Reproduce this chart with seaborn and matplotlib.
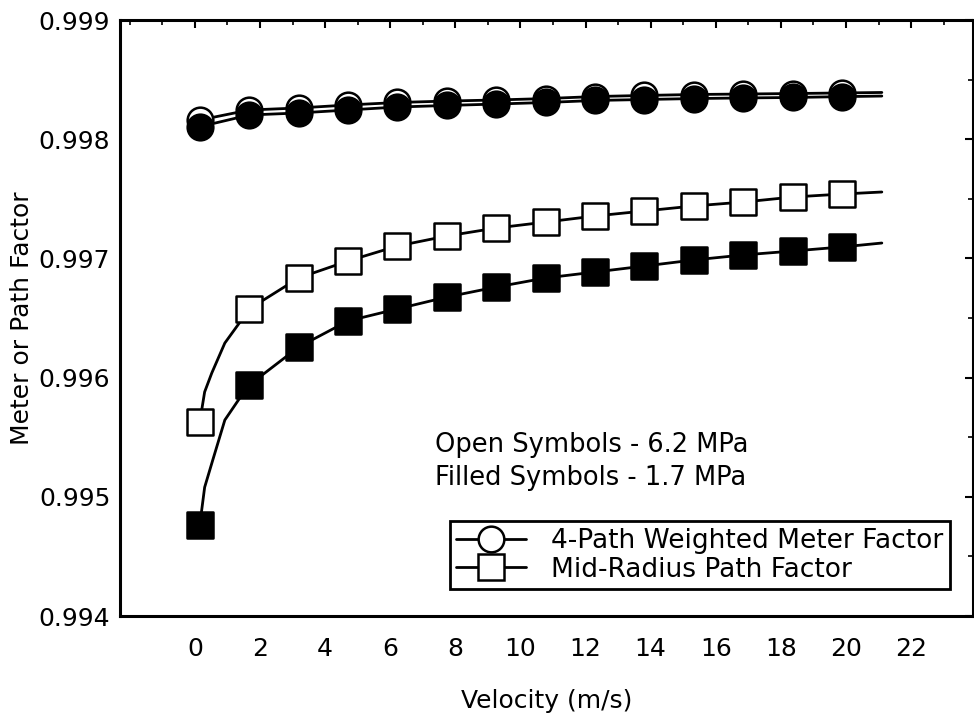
import matplotlib
matplotlib.use("Agg")
import matplotlib.pyplot as plt
from matplotlib.lines import Line2D
from matplotlib.ticker import MultipleLocator, FormatStrFormatter
import seaborn as sns

# ---- data ----
velocity = [0.15, 1.67, 3.19, 4.7, 6.22, 7.74, 9.26, 10.78, 12.3, 13.81, 15.33, 16.85, 18.37, 19.88]

meter_open = [0.998161, 0.998245, 0.998262, 0.998287, 0.998308, 0.998320, 0.998329,
              0.998341, 0.998358, 0.998367, 0.998375, 0.998379, 0.998383, 0.998388]
meter_filled = [0.998105, 0.998203, 0.998220, 0.998245, 0.998270, 0.998283, 0.998295,
                0.998308, 0.998325, 0.998333, 0.998341, 0.998346, 0.998350, 0.998357]
path_open = [0.995628, 0.996576, 0.996836, 0.996978, 0.997104, 0.997188, 0.997255,
             0.997305, 0.997356, 0.997398, 0.997440, 0.997473, 0.997515, 0.997540]
path_filled = [0.994763, 0.995938, 0.996257, 0.996475, 0.996576, 0.996676, 0.996760,
               0.996836, 0.996886, 0.996936, 0.996987, 0.997029, 0.997062, 0.997096]

# fitted curves drawn through the points
curve_x_meter = velocity + [21.1]
curve_meter_open = meter_open + [0.998392]
curve_meter_filled = meter_filled + [0.998362]

curve_x_path_open = [0.15, 0.3, 0.52, 0.92, 1.32] + velocity[1:] + [21.1]
curve_path_open = [0.995628, 0.995880, 0.996039, 0.996290, 0.996441] + path_open[1:] + [0.997557]
curve_x_path_filled = [0.15, 0.3, 0.55, 0.92, 1.38] + velocity[1:] + [21.1]
curve_path_filled = [0.994763, 0.995080, 0.995309, 0.995644, 0.995829] + path_filled[1:] + [0.997129]

x_ticks = list(range(0, 23, 2))
y_ticks = [0.994, 0.995, 0.996, 0.997, 0.998, 0.999]

x_label = "Velocity (m/s)"
y_label = "Meter or Path Factor"
note_open = "Open Symbols - 6.2 MPa"
note_filled = "Filled Symbols - 1.7 MPa"
legend_labels = ["4-Path Weighted Meter Factor", "Mid-Radius Path Factor"]

# ---- styling ----
sns.set_style("white")
plt.rcParams["font.family"] = ["DejaVu Sans"]
plt.rcParams["text.color"] = "black"
plt.rcParams["axes.labelcolor"] = "black"
plt.rcParams["xtick.color"] = "black"
plt.rcParams["ytick.color"] = "black"

fig = plt.figure(figsize=(9.74, 7.23), dpi=100)
ax = fig.add_axes([120 / 974, 107 / 723, 853 / 974, 596 / 723])

LW = 2.0
MS = 18.5
MEW = 1.8

# curves
for cx, cy in [(curve_x_meter, curve_meter_open), (curve_x_meter, curve_meter_filled),
               (curve_x_path_open, curve_path_open), (curve_x_path_filled, curve_path_filled)]:
    sns.lineplot(x=cx, y=cy, ax=ax, color="black", linewidth=LW, sort=False,
                 estimator=None, zorder=2)

# markers (open behind filled for circles)
sns.scatterplot(x=velocity, y=meter_open, ax=ax, marker="o", s=MS ** 2,
                facecolor="white", edgecolor="black", linewidth=MEW, zorder=3)
sns.scatterplot(x=velocity, y=meter_filled, ax=ax, marker="o", s=MS ** 2,
                facecolor="black", edgecolor="black", linewidth=MEW, zorder=4)
sns.scatterplot(x=velocity, y=path_open, ax=ax, marker="s", s=MS ** 2,
                facecolor="white", edgecolor="black", linewidth=MEW, zorder=3)
sns.scatterplot(x=velocity, y=path_filled, ax=ax, marker="s", s=MS ** 2,
                facecolor="black", edgecolor="black", linewidth=MEW, zorder=4)

ax.set_xlim(-2.3, 23.9)
ax.set_ylim(0.994, 0.999)
ax.set_xticks(x_ticks)
ax.set_yticks(y_ticks)
ax.xaxis.set_minor_locator(MultipleLocator(1))
ax.yaxis.set_minor_locator(MultipleLocator(0.0005))
ax.yaxis.set_major_formatter(FormatStrFormatter("%.3f"))

for sp in ax.spines.values():
    sp.set_visible(True)
    sp.set_color("black")
    sp.set_linewidth(2.2)

ax.tick_params(which="both", direction="in", top=True, right=True, colors="black",
               labelcolor="black")
ax.tick_params(which="major", length=6, width=1.5)
ax.tick_params(which="minor", length=3.5, width=1.2)
ax.tick_params(axis="x", which="major", labelsize=18, pad=15)
ax.tick_params(axis="y", which="major", labelsize=18, pad=7)

ax.set_xlabel(x_label, fontsize=18, labelpad=20, color="black")
ax.set_ylabel(y_label, fontsize=18, labelpad=3, color="black")

ax.text(0.369, 0.287, note_open, transform=ax.transAxes, fontsize=18.5,
        ha="left", va="center", color="black")
ax.text(0.369, 0.2315, note_filled, transform=ax.transAxes, fontsize=18.5,
        ha="left", va="center", color="black")

handles = [
    Line2D([0], [0], color="black", lw=LW, marker="o", markersize=MS,
           markerfacecolor="white", markeredgecolor="black", markeredgewidth=MEW),
    Line2D([0], [0], color="black", lw=LW, marker="s", markersize=MS,
           markerfacecolor="white", markeredgecolor="black", markeredgewidth=MEW),
]
leg = ax.legend(handles, legend_labels, loc="lower right", bbox_to_anchor=(0.973, 0.045),
                borderaxespad=0, fontsize=19, frameon=True, fancybox=False,
                edgecolor="black", framealpha=1, handlelength=2.65, handletextpad=0.95,
                labelspacing=0.1, borderpad=0.25, labelcolor="black")
leg.get_frame().set_linewidth(2.0)

fig.savefig("out.png", dpi=100, facecolor="white")
